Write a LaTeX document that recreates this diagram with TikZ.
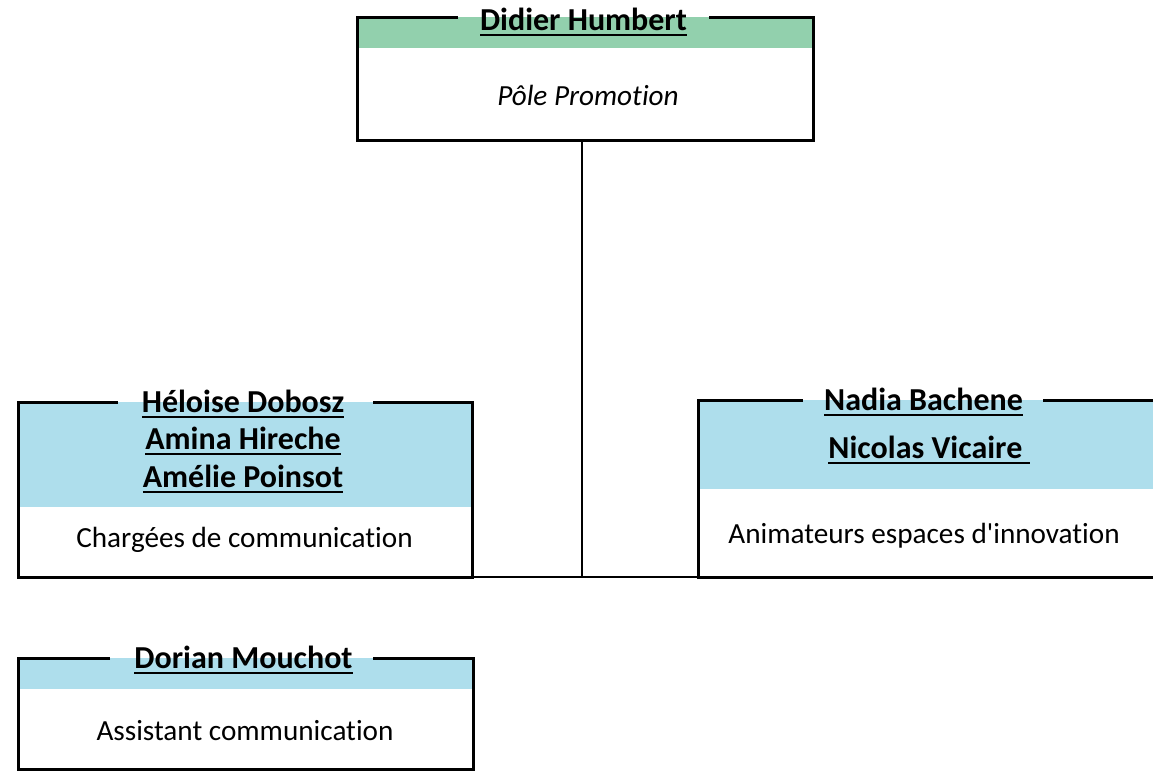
\documentclass[tikz,border=0pt]{standalone}
\usepackage{fontspec}
\setmainfont{Carlito}[Ligatures={TeXOff,CommonOff}]
\definecolor{hdgreen}{HTML}{92D0AD}
\definecolor{hdblue}{HTML}{AEDEEC}
\newcommand\ulname[1]{\setbox0\hbox{#1}\rlap{\rule[-6pt]{\wd0}{2.2pt}}\box0}
\newcommand\namefont{\fontsize{32}{38}\selectfont\bfseries}
\newcommand\rolefont{\fontsize{29.2}{35}\selectfont}
% name, x1, y1, x2, y2, yfill, gapL, gapR, colour
\newcommand\orgbox[9]{%
  \fill[#9] (#2,#3) rectangle (#4,#6);
  \draw[frame] (#7,#3) -- (#2,#3) -- (#2,#5) -- (#4,#5) -- (#4,#3) -- (#8,#3);
  \coordinate (#1-nw) at (#2,#3);
  \coordinate (#1-sw) at (#2,#5);
  \coordinate (#1-se) at (#4,#5);
}
\tikzset{
  frame/.style={line width=3pt, line join=miter},
  conn/.style={line width=2pt},
  pname/.style={font=\namefont, anchor=base, inner sep=0pt},
  prole/.style={font=\rolefont, anchor=base, inner sep=0pt},
}
\begin{document}
\begin{tikzpicture}[x=1pt,y=-1pt]
\useasboundingbox (0,0) rectangle (1153,772);
% top box
\orgbox{top}{357}{17}{813}{140}{48}{458}{709}{hdgreen}
\node[pname] (n1) at (583.5,30) {\ulname{Didier Humbert}};
\node[prole, font=\rolefont\itshape] (r1) at (588,105) {Pôle Promotion};
\coordinate (top-s) at (582,140);
% left box
\orgbox{lb}{18}{402}{472}{577}{507}{118}{373}{hdblue}
\node[pname] (n2) at (243,412) {\ulname{Héloise Dobosz}};
\node[pname] (n3) at (243,449) {\ulname{Amina Hireche}};
\node[pname] (n4) at (243,487) {\ulname{Amélie Poinsot}};
\node[prole] (r2) at (244.5,547) {Chargées de communication};
% right box
\orgbox{rb}{698}{400}{1170}{577}{489}{803}{1043}{hdblue}
\node[pname] (n5) at (923.5,410) {\ulname{Nadia Bachene}};
\node[pname] (n6) at (929,458) {\ulname{Nicolas Vicaire\ }};
\node[prole] (r3) at (924,543) {Animateurs espaces d'innovation};
% bottom box
\orgbox{bb}{18}{658}{473}{769}{689}{110}{373}{hdblue}
\node[pname] (n7) at (243.5,668) {\ulname{Dorian Mouchot}};
\node[prole] (r4) at (245,740) {Assistant communication};
% connectors
\coordinate (junc) at (582,577);
\draw[conn] (top-s) -- (junc);
\draw[conn] (lb-se) -- (rb-sw);
\end{tikzpicture}
\end{document}
